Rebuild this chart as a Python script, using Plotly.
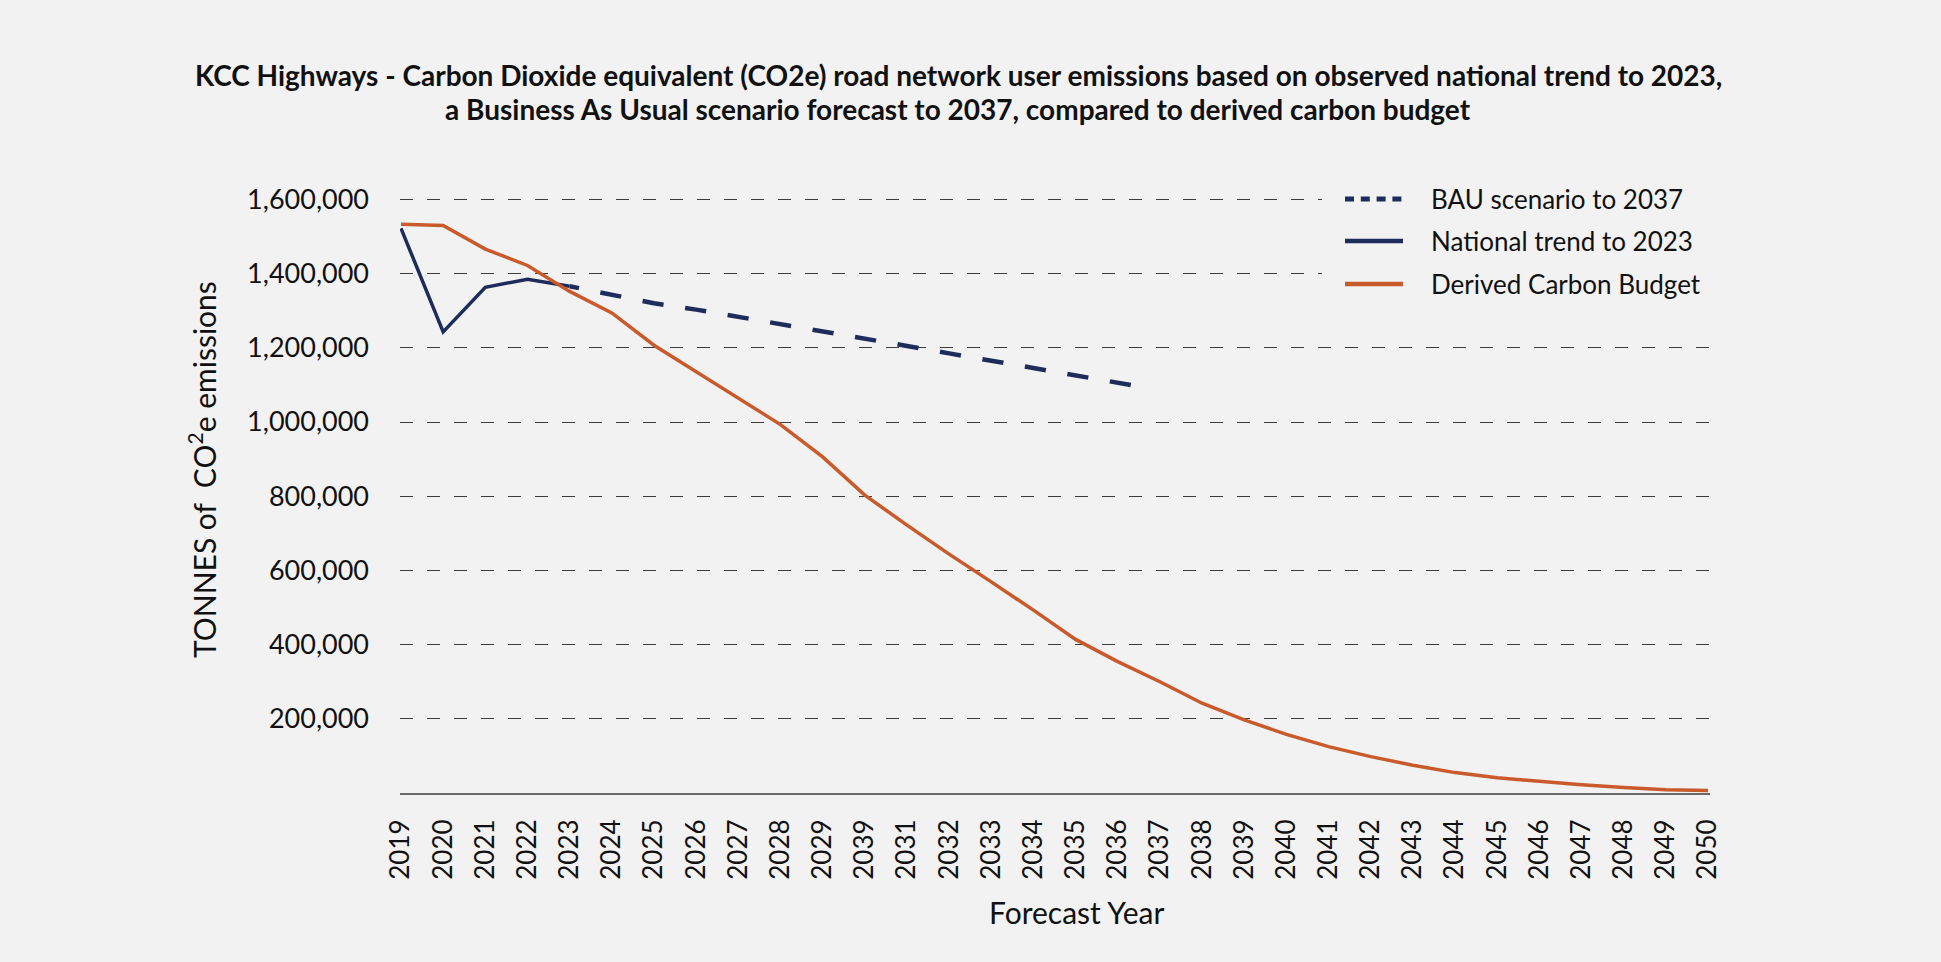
import plotly.graph_objects as go

# ---------------- data ----------------
year_labels = ["2019", "2020", "2021", "2022", "2023", "2024", "2025", "2026", "2027", "2028",
               "2029", "2039", "2031", "2032", "2033", "2034", "2035", "2036", "2037", "2038",
               "2039", "2040", "2041", "2042", "2043", "2044", "2045", "2046", "2047", "2048",
               "2049", "2050"]

national_trend = [1522000, 1243000, 1363000, 1385000, 1366000]            # 2019-2023
bau_scenario = [1366000, 1342000, 1320000, 1303000, 1284000, 1264000, 1244000, 1224000,
                1205000, 1185000, 1165000, 1145000, 1126000, 1106000, 1086000]  # 2023-2037
carbon_budget = [1533000, 1530000, 1466000, 1422000, 1352000, 1294000, 1207000, 1135000,
                 1065000, 993000, 906000, 803000, 722000, 644000, 569000, 493000,
                 414000, 354000, 300000, 242000, 197000, 158000, 125000, 98000,
                 75000, 55000, 41000, 31000, 22000, 15000, 9000, 7000]

y_ticks = [200000, 400000, 600000, 800000, 1000000, 1200000, 1400000, 1600000]

series_names = ["BAU scenario to 2037", "National trend to 2023", "Derived Carbon Budget"]

# ---------------- style ----------------
W, H = 1941, 962
ML, MR, MT, MB = 400, 231, 192, 169
NAVY = "#1e2c5b"
ORANGE = "#c85a2b"
BG = "#f2f2f2"
FONT = "Lato, 'Open Sans', sans-serif"


def paper(x, y):
    return (x - ML) / (W - ML - MR), 1 - (y - MT) / (H - MT - MB)


x_all = list(range(len(year_labels)))
x_nat = x_all[:len(national_trend)]
x_bau = x_all[len(national_trend) - 1:len(national_trend) - 1 + len(bau_scenario)]

# dash pattern for the BAU line (starts mid-dash at the first point)
dash_parts = ["9.5px", "21.8px"] + ["21.3px", "21.8px"] * 13 + ["0px", "400px"]
bau_dash = ",".join(dash_parts)

fig = go.Figure()
fig.add_trace(go.Scatter(x=x_nat, y=national_trend, mode="lines", name=series_names[1],
                         line=dict(color=NAVY, width=3.5), showlegend=False))
fig.add_trace(go.Scatter(x=x_bau, y=bau_scenario, mode="lines", name=series_names[0],
                         line=dict(color=NAVY, width=4.5, dash=bau_dash), showlegend=False))
fig.add_trace(go.Scatter(x=x_all, y=carbon_budget, mode="lines", name=series_names[2],
                         line=dict(color=ORANGE, width=3.5), showlegend=False))

fig.update_layout(
    width=W, height=H,
    margin=dict(l=ML, r=MR, t=MT, b=MB),
    paper_bgcolor=BG, plot_bgcolor=BG,
    font=dict(family=FONT, color="#111111"),
    showlegend=False,
)

fig.update_xaxes(
    range=[-0.024, 31.047],
    tickmode="array", tickvals=x_all, ticktext=year_labels,
    tickangle=-90, tickfont=dict(size=26, family=FONT, color="#111111"),
    ticklabelstandoff=14,
    showgrid=False, zeroline=False,
    showline=True, linecolor="#6a6a6a", linewidth=2,
    ticks="",
)
fig.update_yaxes(
    range=[0, 1620000],
    tickmode="array", tickvals=y_ticks,
    ticktext=[f"{v:,}" for v in y_ticks],
    tickfont=dict(size=27, family=FONT, color="#111111"),
    ticklabelstandoff=30,
    showgrid=True, gridcolor="#3c3c3c", gridwidth=1.3, griddash="13px,14px",
    zeroline=False, showline=False, ticks="",
)

ann = []
# title
for txt, yy in [("KCC Highways - Carbon Dioxide equivalent (CO2e) road network user emissions based on observed national trend to 2023,", 75),
                ("a Business As Usual scenario forecast to 2037, compared to derived carbon budget", 109)]:
    px_, py_ = paper(958, yy)
    ann.append(dict(text=f"<b>{txt}</b>", x=px_, y=py_, xref="paper", yref="paper",
                    xanchor="center", yanchor="middle", showarrow=False,
                    font=dict(size=28, family=FONT, color="#111111")))
# axis titles
px_, py_ = paper(202, 470)
ann.append(dict(text="TONNES of  CO<sup>2</sup>e emissions", x=px_, y=py_, xref="paper", yref="paper",
                xanchor="center", yanchor="middle", showarrow=False, textangle=-90,
                font=dict(size=30, family=FONT, color="#111111")))
px_, py_ = paper(1076, 912)
ann.append(dict(text="Forecast Year", x=px_, y=py_, xref="paper", yref="paper",
                xanchor="center", yanchor="middle", showarrow=False,
                font=dict(size=30, family=FONT, color="#111111")))

# legend (manual) with a background box that hides the gridlines behind it
shapes = []
bx0, by0 = paper(1322, 178)
bx1, by1 = paper(1715, 305)
shapes.append(dict(type="rect", xref="paper", yref="paper", x0=bx0, x1=bx1, y0=by1, y1=by0,
                   fillcolor=BG, line=dict(width=0), layer="above"))
legend_rows = [(series_names[0], 199, NAVY, 5, "9px,6.8px"),
               (series_names[1], 241, NAVY, 4.5, "solid"),
               (series_names[2], 284, ORANGE, 4.5, "solid")]
for name, yy, col, wdt, dsh in legend_rows:
    x0, y0 = paper(1345, yy)
    x1, _ = paper(1403, yy)
    shapes.append(dict(type="line", xref="paper", yref="paper", x0=x0, x1=x1, y0=y0, y1=y0,
                       line=dict(color=col, width=wdt, dash=dsh), layer="above"))
    tx, ty = paper(1429, yy)
    ann.append(dict(text=name, x=tx, y=ty, xref="paper", yref="paper",
                    xanchor="left", yanchor="middle", showarrow=False,
                    font=dict(size=26, family=FONT, color="#111111")))

fig.update_layout(annotations=ann, shapes=shapes)
fig.write_html("out.html", config={"displayModeBar": False},
               post_script="document.body.style.margin='0px';document.body.style.background='#f2f2f2';")
